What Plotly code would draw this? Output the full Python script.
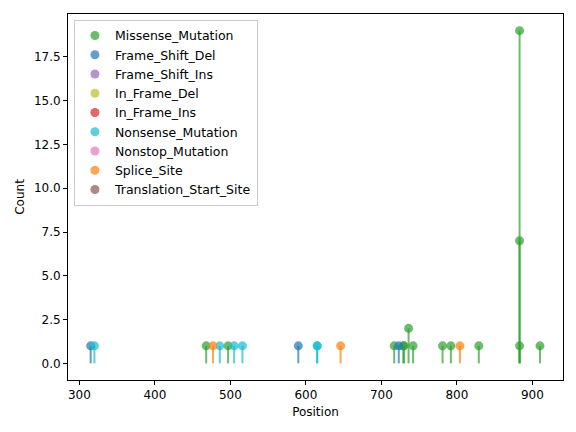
import plotly.graph_objects as go

# mutation types in legend order, with matplotlib tab10 colours
mutation_types = [
    "Missense_Mutation",
    "Frame_Shift_Del",
    "Frame_Shift_Ins",
    "In_Frame_Del",
    "In_Frame_Ins",
    "Nonsense_Mutation",
    "Nonstop_Mutation",
    "Splice_Site",
    "Translation_Start_Site",
]
type_colors = [
    "44,160,44",
    "31,119,180",
    "148,103,189",
    "188,189,34",
    "214,39,40",
    "23,190,207",
    "227,119,194",
    "255,127,14",
    "140,86,75",
]

# one entry per lollipop
missense_pos = [468, 497, 717, 729, 730, 736, 742, 781, 792, 829, 883, 883, 883, 910]
missense_cnt = [1, 1, 1, 1, 1, 2, 1, 1, 1, 1, 1, 7, 19, 1]
fsdel_pos = [315, 590, 723]
fsdel_cnt = [1, 1, 1]
nonsense_pos = [320, 486, 505, 516, 615, 615]
nonsense_cnt = [1, 1, 1, 1, 1, 1]
splice_pos = [477, 646, 804]
splice_cnt = [1, 1, 1]

data = {
    "Missense_Mutation": (missense_pos, missense_cnt),
    "Frame_Shift_Del": (fsdel_pos, fsdel_cnt),
    "Nonsense_Mutation": (nonsense_pos, nonsense_cnt),
    "Splice_Site": (splice_pos, splice_cnt),
}

fig = go.Figure()

# stems, one trace each so overlapping alpha builds up like matplotlib
for name, rgb in zip(mutation_types, type_colors):
    pos, cnt = data.get(name, ([], []))
    for p, c in zip(pos, cnt):
        fig.add_trace(go.Scatter(
            x=[p, p], y=[0, c], mode="lines",
            line=dict(color=f"rgba({rgb},0.7)", width=2),
            showlegend=False, hoverinfo="skip",
        ))

# heads
for name, rgb in zip(mutation_types, type_colors):
    pos, cnt = data.get(name, ([None], [None]))
    fig.add_trace(go.Scatter(
        x=pos, y=cnt, mode="markers", name=name,
        marker=dict(size=9, color=f"rgba({rgb},0.7)",
                    line=dict(width=0)),
    ))

axis_style = dict(
    showline=True, linecolor="black", linewidth=1, mirror=True,
    ticks="outside", ticklen=4, tickcolor="black", tickwidth=1,
    showgrid=False, zeroline=False, automargin=False,
    tickfont=dict(size=12, color="black"),
)

# the page body adds an 8px offset, so the figure is 8px smaller
fig.update_layout(
    width=568, height=424,
    margin=dict(l=60, r=13, t=6, b=52),
    plot_bgcolor="white", paper_bgcolor="white",
    font=dict(family="DejaVu Sans", size=12, color="black"),
    xaxis=dict(title=dict(text="Position", font=dict(size=12), standoff=6),
               range=[285, 940.5], dtick=100, **axis_style),
    yaxis=dict(title=dict(text="Count", font=dict(size=12), standoff=6),
               range=[-0.95, 19.95], dtick=2.5, tickformat=".1f",
               **axis_style),
    legend=dict(x=0.012, y=0.984, xanchor="left", yanchor="top",
                bgcolor="rgba(255,255,255,0.8)", bordercolor="#cccccc",
                borderwidth=1, font=dict(size=12.5)),
)

fig.write_html("out.html")
